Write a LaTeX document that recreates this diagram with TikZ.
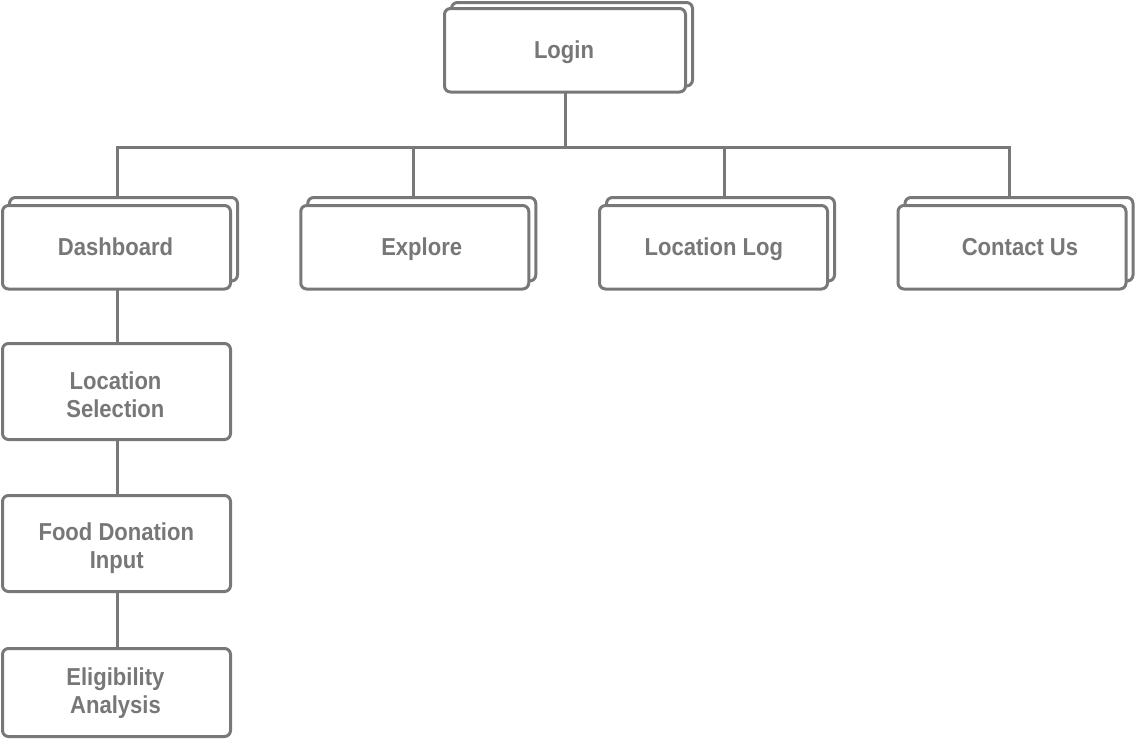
\documentclass[tikz,border=0pt]{standalone}
\usepackage{fontspec}
\setmainfont[FakeStretch=0.9]{Liberation Sans}
\definecolor{ln}{HTML}{787878}
\definecolor{tx}{HTML}{777777}
\begin{document}
\begin{tikzpicture}[x=1pt,y=-1pt,
  box/.style={draw=ln, line width=3pt, rounded corners=6pt, fill=white,
    minimum width=228pt, minimum height=83.5pt, inner sep=0pt, outer sep=0pt},
  lbl/.style={text=tx, font=\fontsize{24.5}{28}\selectfont\bfseries,
    inner sep=0pt, outer sep=0pt, text height=17.5pt, text depth=0pt},
  conn/.style={draw=ln, line width=3pt}]
\useasboundingbox (0,0) rectangle (1136,740);
% connector coordinates
\coordinate (busL) at (117,147);
\coordinate (busR) at (1009,147);
\coordinate (exTop) at (413,147);
\coordinate (llTop) at (724,147);
% boxes: back copies first
\node[box, minimum width=241pt] (loginB) at (572,44.25) {};
\node[box, minimum width=241pt] (login) at (565,50.25) {};
\node[box] (dashB) at (123.5,239.25) {};
\node[box] (dash) at (116.5,247.25) {};
\node[box] (exB) at (421.75,239.25) {};
\node[box] (ex) at (414.75,247.25) {};
\node[box] (llB) at (720.5,239.25) {};
\node[box] (ll) at (713.5,247.25) {};
\node[box] (cuB) at (1019,239.25) {};
\node[box] (cu) at (1012,247.25) {};
\node[box, minimum height=96pt] (ls) at (116.5,391.5) {};
\node[box, minimum height=96pt] (fd) at (116.5,543.5) {};
\node[box, minimum height=88pt] (ea) at (116.5,692.5) {};
% connectors
\draw[conn] (login.south) -- (login.south |- busL);
\draw[conn] (busL |- dashB.north) -- (busL) -- (busR) -- (busR |- cuB.north);
\draw[conn] (exTop) -- (exTop |- exB.north);
\draw[conn] (llTop) -- (llTop |- llB.north);
\draw[conn] (dash.south -| busL) -- (ls.north -| busL);
\draw[conn] (ls.south -| busL) -- (fd.north -| busL);
\draw[conn] (fd.south -| busL) -- (ea.north -| busL);
% labels
\node[lbl] (tLogin) at (564,50) {Login};
\node[lbl] (tDash) at (115.5,246.7) {Dashboard};
\node[lbl] (tEx) at (421.7,246.7) {Explore};
\node[lbl] (tLL) at (713.8,246.7) {Location Log};
\node[lbl] (tCU) at (1020,246.7) {Contact Us};
\node[lbl] (tLS1) at (115.5,380.5) {Location};
\node[lbl] (tLS2) at (115.4,408.3) {Selection};
\node[lbl] (tFD1) at (116.3,532) {Food Donation};
\node[lbl] (tFD2) at (116.7,560) {Input};
\node[lbl] (tEA1) at (115.4,676.7) {Eligibility};
\node[lbl] (tEA2) at (115.5,704.7) {Analysis};
\end{tikzpicture}
\end{document}
